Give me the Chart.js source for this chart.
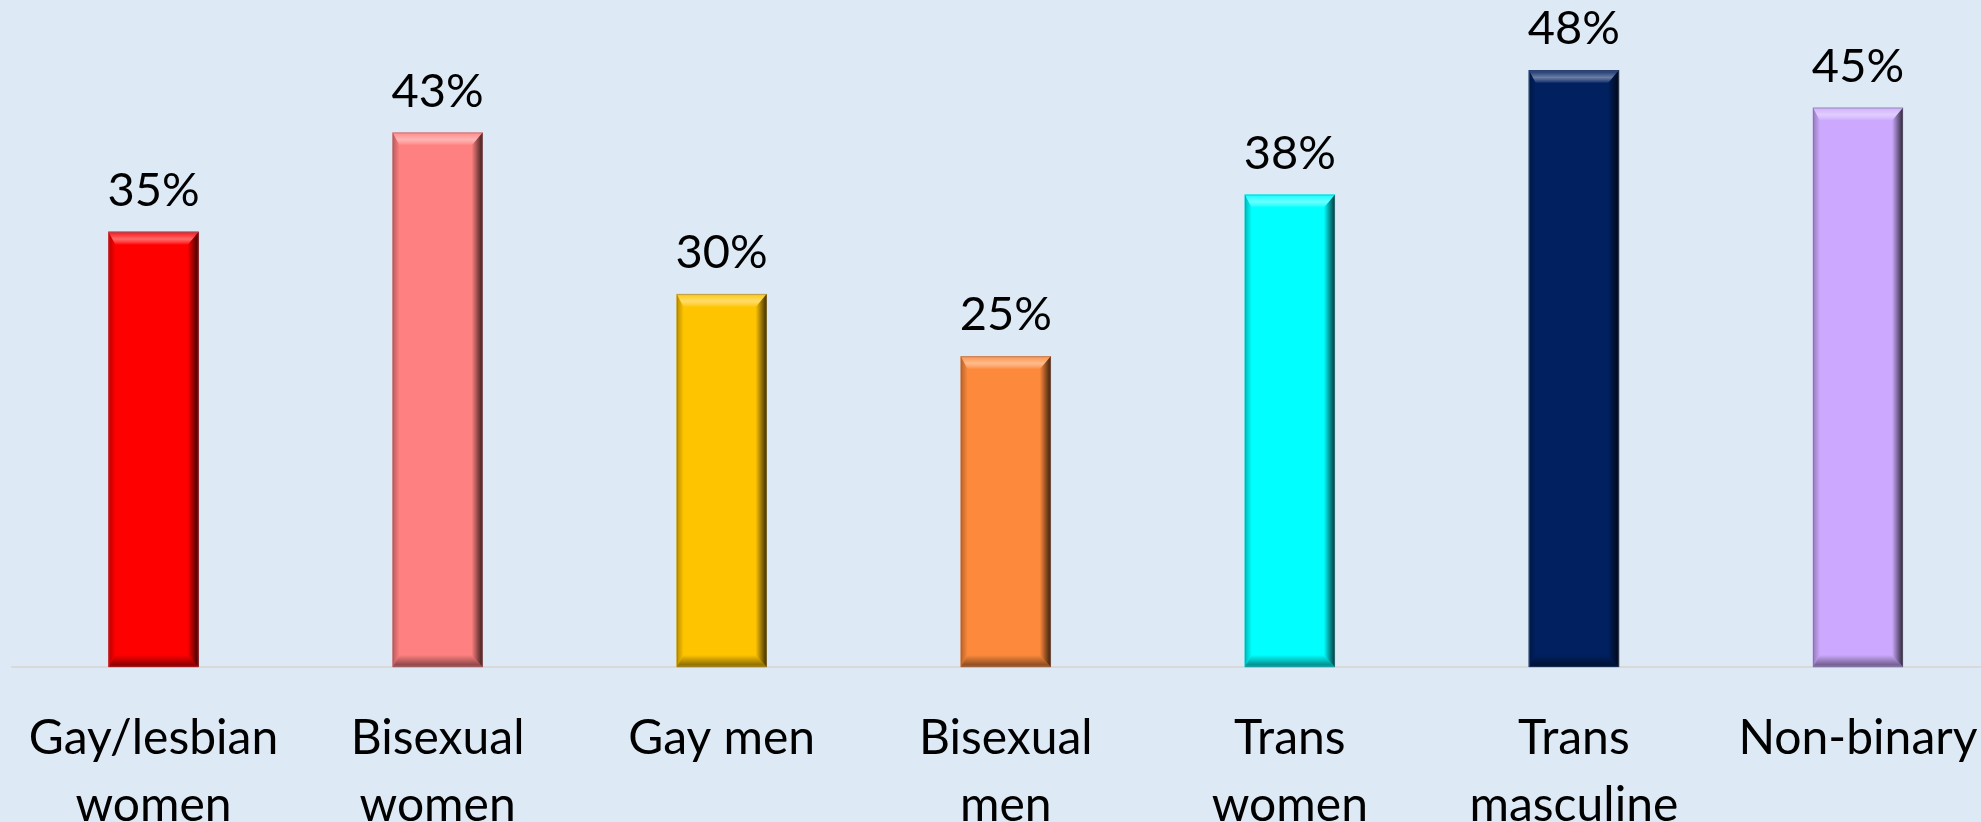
<!DOCTYPE html>
<html>
<head>
<meta charset="utf-8">
<script src="https://cdn.jsdelivr.net/npm/chart.js@4/dist/chart.umd.min.js"></script>
<style>
  html, body { margin: 0; padding: 0; background: #DDEAF6; overflow: hidden; }
  #wrap { width: 2000px; height: 822px; }
</style>
</head>
<body>
<div id="wrap"><canvas id="c" width="2000" height="822"></canvas></div>
<script>
// Share of respondents in each group
const categories = [
  ['Gay/lesbian', 'women'],
  ['Bisexual', 'women'],
  'Gay men',
  ['Bisexual', 'men'],
  ['Trans', 'women'],
  ['Trans', 'masculine'],
  'Non-binary'
];
const values = [35, 43, 30, 25, 38, 48, 45];
const barColors = ['#FF0000', '#FF8080', '#FFC400', '#FD8A3C', '#00FFFF', '#002060', '#CCA9FE'];

const FONT = 'Lato, "Open Sans", sans-serif';

// Bevelled look drawn over each bar, using the bar element geometry
const bevelPlugin = {
  id: 'bevel',
  afterDatasetsDraw(chart) {
    const ctx = chart.ctx;
    const meta = chart.getDatasetMeta(0);
    meta.data.forEach(bar => {
      const p = bar.getProps(['x', 'y', 'base', 'width'], true);
      const L = p.x - p.width / 2, R = p.x + p.width / 2, T = p.y, B = p.base;
      const bt = 13, bl = 7, br = 11, bb = 12;
      ctx.save();
      // top
      let g = ctx.createLinearGradient(0, T, 0, T + bt);
      g.addColorStop(0, 'rgba(255,255,255,0.08)');
      g.addColorStop(0.55, 'rgba(255,255,255,0.42)');
      g.addColorStop(0.8, 'rgba(255,255,255,0.22)');
      g.addColorStop(1, 'rgba(255,255,255,0)');
      ctx.fillStyle = g;
      ctx.beginPath();
      ctx.moveTo(L, T); ctx.lineTo(R, T); ctx.lineTo(R - br, T + bt); ctx.lineTo(L + bl, T + bt); ctx.closePath();
      ctx.fill();
      // left
      g = ctx.createLinearGradient(L, 0, L + bl, 0);
      g.addColorStop(0, 'rgba(0,0,0,0.28)');
      g.addColorStop(1, 'rgba(0,0,0,0)');
      ctx.fillStyle = g;
      ctx.beginPath();
      ctx.moveTo(L, T); ctx.lineTo(L + bl, T + bt); ctx.lineTo(L + bl, B - bb); ctx.lineTo(L, B); ctx.closePath();
      ctx.fill();
      // bottom
      g = ctx.createLinearGradient(0, B - bb, 0, B);
      g.addColorStop(0, 'rgba(0,0,0,0)');
      g.addColorStop(0.8, 'rgba(0,0,0,0.42)');
      g.addColorStop(1, 'rgba(0,0,0,0.3)');
      ctx.fillStyle = g;
      ctx.beginPath();
      ctx.moveTo(L, B); ctx.lineTo(L + bl, B - bb); ctx.lineTo(R - br, B - bb); ctx.lineTo(R, B); ctx.closePath();
      ctx.fill();
      // right
      g = ctx.createLinearGradient(R - br, 0, R, 0);
      g.addColorStop(0, 'rgba(0,0,0,0)');
      g.addColorStop(1, 'rgba(0,0,0,0.78)');
      ctx.fillStyle = g;
      ctx.beginPath();
      ctx.moveTo(R, T); ctx.lineTo(R, B); ctx.lineTo(R - br, B - bb); ctx.lineTo(R - br, T + bt); ctx.closePath();
      ctx.fill();
      // thin outline
      ctx.strokeStyle = 'rgba(110,110,130,0.45)';
      ctx.lineWidth = 1;
      ctx.strokeRect(L + 0.5, T + 0.5, p.width - 1, B - T - 0.5);
      ctx.restore();
    });
  }
};

// Percentage labels above each bar
const valueLabelPlugin = {
  id: 'valueLabels',
  afterDatasetsDraw(chart) {
    const ctx = chart.ctx;
    const ds = chart.data.datasets[0];
    const meta = chart.getDatasetMeta(0);
    ctx.save();
    ctx.font = '47px ' + FONT;
    ctx.fillStyle = '#000000';
    ctx.textAlign = 'center';
    ctx.textBaseline = 'alphabetic';
    meta.data.forEach((bar, i) => {
      const p = bar.getProps(['x', 'y'], true);
      ctx.fillText(ds.data[i] + '%', p.x, p.y - 26);
    });
    ctx.restore();
  }
};

new Chart(document.getElementById('c'), {
  type: 'bar',
  data: {
    labels: categories,
    datasets: [{
      data: values,
      backgroundColor: barColors,
      borderWidth: 0,
      barThickness: 90
    }]
  },
  options: {
    responsive: false,
    animation: false,
    devicePixelRatio: 1,
    layout: { padding: { left: 11.5, right: 0, top: 45.5, bottom: 0 } },
    plugins: { legend: { display: false }, tooltip: { enabled: false } },
    scales: {
      x: {
        grid: { display: false, drawTicks: true, tickLength: 38 },
        border: { display: true, color: '#D9D9D9', width: 2 },
        ticks: {
          color: '#000000',
          font: { family: FONT, size: 48, lineHeight: '67px' },
          padding: 0,
          maxRotation: 0,
          autoSkip: false
        },
        afterFit(scale) { scale.height = 155; }
      },
      y: {
        display: false,
        min: 0,
        max: 50
      }
    }
  },
  plugins: [bevelPlugin, valueLabelPlugin]
});
</script>
</body>
</html>
